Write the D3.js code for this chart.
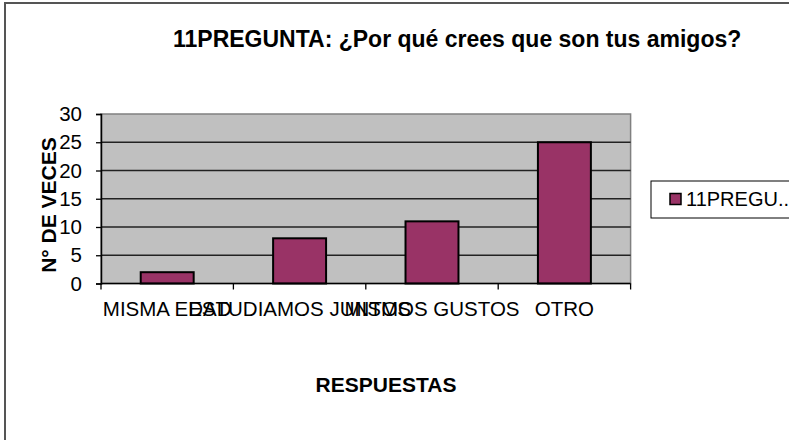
<!DOCTYPE html>
<html>
<head>
<meta charset="utf-8">
<script src="https://cdn.jsdelivr.net/npm/d3@7"></script>
<style>
  body { margin: 0; background: #fff; }
  svg text { font-family: Arial, "Liberation Sans", sans-serif; fill: #000; }
</style>
</head>
<body>
<div id="chart"></div>
<script>
// chart data
const categories = ['MISMA EDAD', 'ESTUDIAMOS JUNTOS', 'MISMOS GUSTOS', 'OTRO'];
const values = [2, 8, 11, 25];
const yTicks = [0, 5, 10, 15, 20, 25, 30];
const seriesName = '11PREGU..';
const title = '11PREGUNTA: ¿Por qué crees que son tus amigos?';

const width = 789, height = 440;
const plot = {left: 101, right: 630.6, top: 114, bottom: 283.5};
const barColor = '#993366';

const svg = d3.select('#chart').append('svg')
    .attr('width', width)
    .attr('height', height);

// outer frame
svg.append('rect')
    .attr('x', 5).attr('y', 3)
    .attr('width', 800).attr('height', 450)
    .attr('fill', 'none')
    .attr('stroke', '#555')
    .attr('stroke-width', 2);

const x = d3.scaleBand()
    .domain(categories)
    .range([plot.left, plot.right])
    .paddingInner(0.6)
    .paddingOuter(0.3);

const y = d3.scaleLinear()
    .domain([0, 30])
    .range([plot.bottom, plot.top]);

// plot background
svg.append('rect')
    .attr('x', plot.left).attr('y', plot.top)
    .attr('width', plot.right - plot.left)
    .attr('height', plot.bottom - plot.top)
    .attr('fill', '#c0c0c0')
    .attr('stroke', '#808080')
    .attr('stroke-width', 1.5);

// gridlines
svg.append('g')
    .selectAll('line')
    .data(yTicks.filter(d => d > 0 && d < 30))
    .join('line')
    .attr('x1', plot.left).attr('x2', plot.right)
    .attr('y1', d => y(d)).attr('y2', d => y(d))
    .attr('stroke', '#222')
    .attr('stroke-width', 1.3);

// bars
svg.append('g')
    .selectAll('rect')
    .data(values)
    .join('rect')
    .attr('x', (d, i) => x(categories[i]))
    .attr('y', d => y(d))
    .attr('width', x.bandwidth())
    .attr('height', d => y(0) - y(d))
    .attr('fill', barColor)
    .attr('stroke', '#000')
    .attr('stroke-width', 2);

// y axis
const yAxis = svg.append('g')
    .attr('transform', `translate(${plot.left},0)`)
    .call(d3.axisLeft(y).tickValues(yTicks).tickSize(5).tickPadding(14));
yAxis.select('.domain').attr('stroke', '#000').attr('stroke-width', 1.5);
yAxis.selectAll('.tick line').attr('stroke', '#000').attr('stroke-width', 1.3);
yAxis.selectAll('.tick text')
    .attr('font-size', 20.5)
    .attr('font-family', 'Arial, "Liberation Sans", sans-serif')
    .attr('fill', '#000');

// x axis line and ticks at band boundaries
const step = x.step();
const boundaries = d3.range(categories.length + 1).map(i => plot.left + i * step);
svg.append('line')
    .attr('x1', plot.left).attr('x2', plot.right)
    .attr('y1', plot.bottom).attr('y2', plot.bottom)
    .attr('stroke', '#000').attr('stroke-width', 1.5);
svg.append('g')
    .selectAll('line')
    .data(boundaries)
    .join('line')
    .attr('x1', d => d).attr('x2', d => d)
    .attr('y1', plot.bottom).attr('y2', plot.bottom + 6)
    .attr('stroke', '#000').attr('stroke-width', 1.3);

// category labels (they overlap, as in the original)
svg.append('g')
    .selectAll('text')
    .data(categories)
    .join('text')
    .attr('x', d => x(d) + x.bandwidth() / 2)
    .attr('y', 316)
    .attr('text-anchor', 'middle')
    .attr('font-size', 20.5)
    .text(d => d);

// title
svg.append('text')
    .attr('x', 173)
    .attr('y', 47)
    .attr('font-size', 23)
    .attr('font-weight', 'bold')
    .text(title);

// axis titles
svg.append('text')
    .attr('transform', 'translate(56,205) rotate(-90)')
    .attr('text-anchor', 'middle')
    .attr('font-size', 21)
    .attr('font-weight', 'bold')
    .text('N° DE VECES');

svg.append('text')
    .attr('x', 386)
    .attr('y', 392)
    .attr('text-anchor', 'middle')
    .attr('font-size', 21)
    .attr('font-weight', 'bold')
    .text('RESPUESTAS');

// legend
const legend = svg.append('g').attr('transform', 'translate(651,181)');
legend.append('rect')
    .attr('width', 150).attr('height', 37)
    .attr('fill', '#fff')
    .attr('stroke', '#000')
    .attr('stroke-width', 1);
legend.append('rect')
    .attr('x', 19).attr('y', 12.5)
    .attr('width', 11).attr('height', 11)
    .attr('fill', barColor)
    .attr('stroke', '#000')
    .attr('stroke-width', 1.5);
legend.append('text')
    .attr('x', 35).attr('y', 25)
    .attr('font-size', 20)
    .text(seriesName);
</script>
</body>
</html>
